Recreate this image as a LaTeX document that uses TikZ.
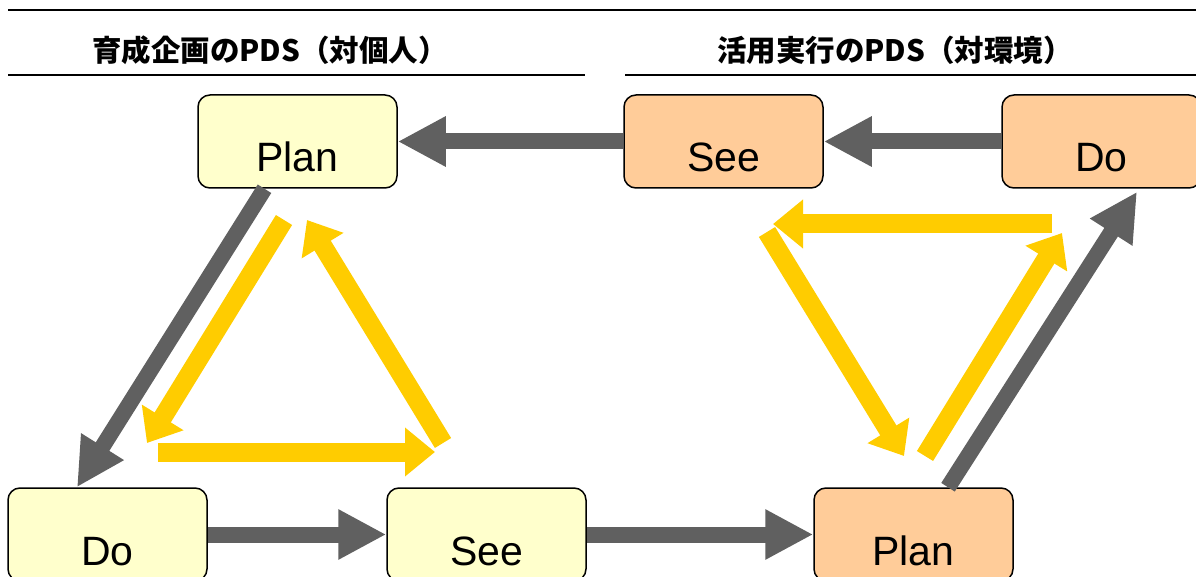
\documentclass[tikz,border=0pt]{standalone}
\usepackage{fontspec}
\newfontfamily\lsans{Liberation Sans}
\newfontfamily\cjk{Noto Sans CJK JP}
\usetikzlibrary{arrows.meta}
\definecolor{boxyellow}{HTML}{FFFFCC}
\definecolor{boxorange}{HTML}{FFCC99}
\definecolor{arrgray}{HTML}{606060}
\definecolor{arryellow}{HTML}{FFCC00}
\tikzset{
  pdsbox/.style={draw=black, line width=1.5pt, rounded corners=12pt,
    minimum width=199pt, minimum height=93pt, inner sep=0pt},
  ybox/.style={pdsbox, fill=boxyellow},
  obox/.style={pdsbox, fill=boxorange},
  lbl/.style={font=\lsans\fontsize{41}{41}\selectfont, inner sep=0pt,
    text height=29pt, text depth=0pt, yshift=-16pt},
  ttl/.style={font=\cjk\bfseries\fontsize{29.5}{29.5}\selectfont, inner sep=0pt},
  garrow/.style={draw=arrgray, line width=16pt,
    -{Triangle[length=48pt,width=47pt]}},
  yarrow/.style={draw=arryellow, line width=19pt,
    -{Triangle[length=30pt,width=47pt]}},
}
\begin{document}
\begin{tikzpicture}[x=1pt,y=-1pt]
\useasboundingbox (0,0) rectangle (1196,577);
% rules
\draw[line width=2pt] (8,10) -- (1196,10);
\draw[line width=1.5pt] (8,75) -- (585,75);
\draw[line width=1.5pt] (625,75) -- (1196,75);
% titles
\node[ttl] (t1) at (270,50) {育成企画のPDS（対個人）};
\node[ttl] (t2) at (895,50) {活用実行のPDS（対環境）};
% boxes
\node[ybox, label={[lbl]center:Plan}] (planL) at (297.5,141.5) {};
\node[obox, label={[lbl]center:See}]  (seeR)  at (723.5,141.5) {};
\node[obox, label={[lbl]center:Do}]   (doR)   at (1101.5,141.5) {};
\node[ybox, label={[lbl]center:Do}]   (doL)   at (107.5,534.5) {};
\node[ybox, label={[lbl]center:See}]  (seeL)  at (486.5,534.5) {};
\node[obox, label={[lbl]center:Plan}] (planR) at (913.5,534.5) {};
% gray connectors
\draw[garrow] (doR.west) -- (seeR.east);
\draw[garrow] (seeR.west) -- (planL.east);
\draw[garrow] ([xshift=-33pt]planL.south) -- ([xshift=-30.5pt]doL.north);
\draw[garrow] (doL.east) -- (seeL.west);
\draw[garrow] (seeL.east) -- (planR.west);
\draw[garrow] ([xshift=34.5pt]planR.north) -- ([xshift=35.5pt,yshift=-3pt]doR.south);
% yellow cycle (left)
\coordinate (a1s) at (284,220); \coordinate (a1e) at (147,443);
\coordinate (a2s) at (158,452); \coordinate (a2e) at (435,452);
\coordinate (a3s) at (443,443); \coordinate (a3e) at (307,220);
\draw[yarrow] (a1s) -- (a1e);
\draw[yarrow] (a2s) -- (a2e);
\draw[yarrow] (a3s) -- (a3e);
% yellow cycle (right)
\coordinate (b1s) at (1052,224); \coordinate (b1e) at (773,224);
\coordinate (b2s) at (767,232);  \coordinate (b2e) at (904,456);
\coordinate (b3s) at (925,456);  \coordinate (b3e) at (1062,233);
\draw[yarrow] (b1s) -- (b1e);
\draw[yarrow] (b2s) -- (b2e);
\draw[yarrow] (b3s) -- (b3e);
\end{tikzpicture}
\end{document}
